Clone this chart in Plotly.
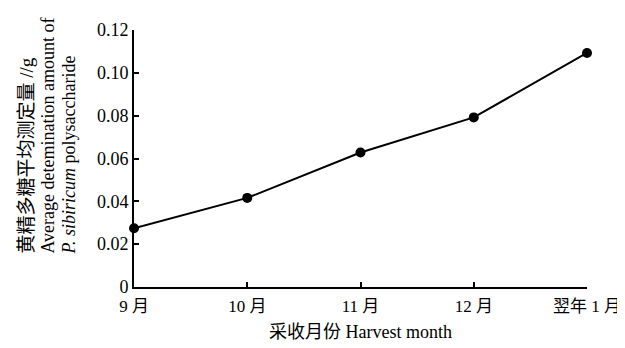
import plotly.graph_objects as go

months = ["9 月", "10 月", "11 月", "12 月", "翌年 1 月"]
amount = [0.0274, 0.0416, 0.0628, 0.0792, 0.1093]
y_ticks = [0, 0.02, 0.04, 0.06, 0.08, 0.10, 0.12]
y_tick_text = ["0", "0.02", "0.04", "0.06", "0.08", "0.10", "0.12"]

FONT = "Liberation Serif, Noto Sans CJK SC, serif"
x_idx = list(range(len(months)))

fig = go.Figure()
fig.add_trace(go.Scatter(
    x=x_idx, y=amount, mode="lines+markers",
    line=dict(color="black", width=2),
    marker=dict(color="black", size=10),
    cliponaxis=False, showlegend=False,
))

fig.update_layout(
    width=625, height=348,
    margin=dict(l=126, r=39, t=18, b=69),
    paper_bgcolor="white", plot_bgcolor="white",
    font=dict(family=FONT, size=18, color="black"),
    xaxis=dict(
        range=[0, 4], tickvals=x_idx, ticktext=months,
        showline=True, linecolor="black", linewidth=2,
        ticks="inside", ticklen=5, tickwidth=2, tickcolor="black",
        showgrid=False, zeroline=False,
        tickfont=dict(family=FONT, size=17),
        ticklabelstandoff=3,
        title=dict(text="采收月份 Harvest month", font=dict(family=FONT, size=18), standoff=10),
    ),
    yaxis=dict(
        range=[0, 0.12], tickvals=y_ticks, ticktext=y_tick_text,
        showline=True, linecolor="black", linewidth=2,
        ticks="inside", ticklen=5, tickwidth=2, tickcolor="black",
        showgrid=False, zeroline=False,
        tickfont=dict(family=FONT, size=18),
    ),
)

fig.add_annotation(
    xref="paper", yref="paper",
    x=-0.19, y=0.12, xanchor="center", yanchor="bottom",
    text=("<span style='font-size:19px'>黄精多糖平均测定量 //g</span><br>"
          "<span style='font-size:18px'>Average detemination amount of</span><br>"
          "<span style='font-size:18px'><i>P. sibiricum</i> polysaccharide</span>"),
    textangle=-90, align="left", showarrow=False,
    font=dict(family=FONT, size=16, color="black"),
)

fig.write_html("out.html")
